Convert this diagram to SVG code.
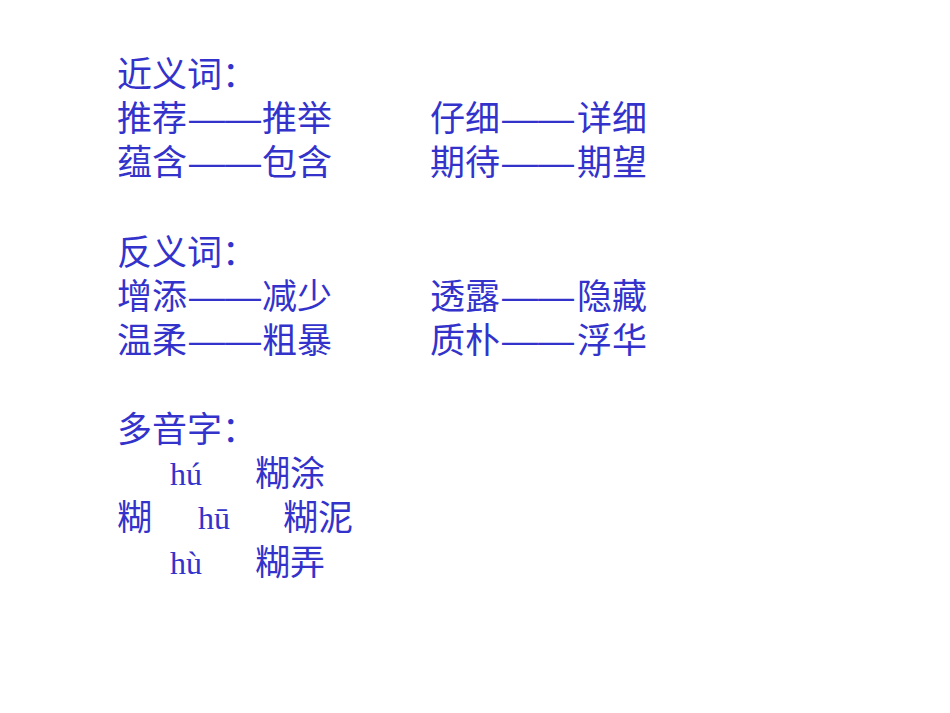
<svg xmlns="http://www.w3.org/2000/svg" width="950" height="713" viewBox="0 0 950 713">
<style>
text{fill:#3333CC;font-family:"Noto Sans CJK SC",sans-serif;font-size:35px}
.p{font-family:"Liberation Serif","Noto Sans CJK SC",serif;font-size:32px}
.d{font-family:"Liberation Sans",sans-serif}
</style>
<rect width="950" height="713" fill="#fff"/>
<g id="synonyms">
<text x="117" y="87">近义词：</text>
<text x="117" y="131">推荐</text><text class="d" x="189" y="131" textLength="72" lengthAdjust="spacingAndGlyphs">——</text><text x="262" y="131">推举</text>
<text x="430" y="131">仔细</text><text class="d" x="502" y="131" textLength="72" lengthAdjust="spacingAndGlyphs">——</text><text x="577" y="131">详细</text>
<text x="117" y="175">蕴含</text><text class="d" x="189" y="175" textLength="72" lengthAdjust="spacingAndGlyphs">——</text><text x="262" y="175">包含</text>
<text x="430" y="175">期待</text><text class="d" x="502" y="175" textLength="72" lengthAdjust="spacingAndGlyphs">——</text><text x="577" y="175">期望</text>
</g>
<g id="antonyms">
<text x="117" y="265">反义词：</text>
<text x="117" y="309">增添</text><text class="d" x="189" y="309" textLength="72" lengthAdjust="spacingAndGlyphs">——</text><text x="262" y="309">减少</text>
<text x="430" y="309">透露</text><text class="d" x="502" y="309" textLength="72" lengthAdjust="spacingAndGlyphs">——</text><text x="577" y="309">隐藏</text>
<text x="117" y="353">温柔</text><text class="d" x="189" y="353" textLength="72" lengthAdjust="spacingAndGlyphs">——</text><text x="262" y="353">粗暴</text>
<text x="430" y="353">质朴</text><text class="d" x="502" y="353" textLength="72" lengthAdjust="spacingAndGlyphs">——</text><text x="577" y="353">浮华</text>
</g>
<g id="polyphone">
<text x="117" y="442">多音字：</text>
<text class="p" x="170" y="485">hú</text>
<text x="255" y="486">糊涂</text>
<text x="117" y="530">糊</text>
<text class="p" x="198" y="529">hū</text>
<text x="283" y="530">糊泥</text>
<text class="p" x="170" y="574">hù</text>
<text x="255" y="575">糊弄</text>
</g>
</svg>
